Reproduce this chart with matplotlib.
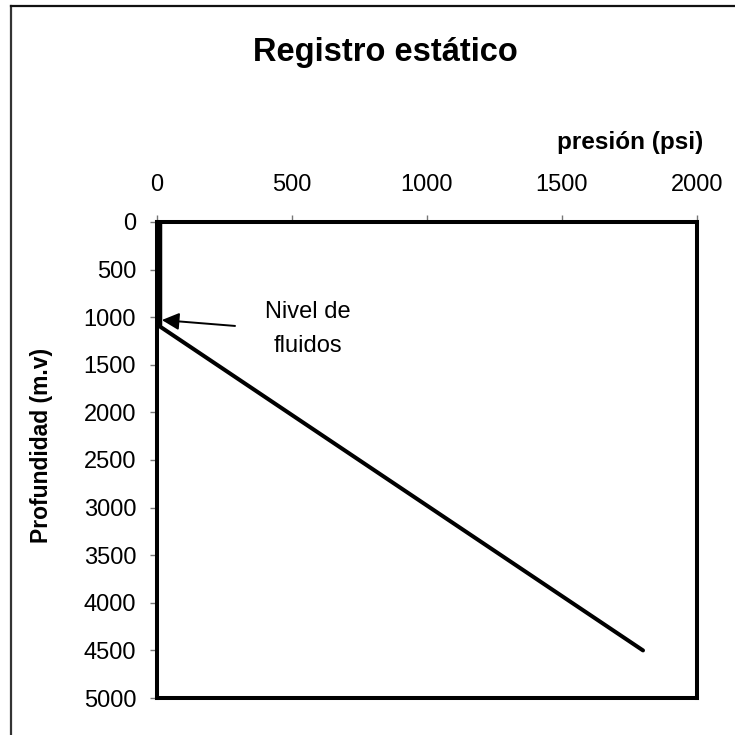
import matplotlib.pyplot as plt
from matplotlib.lines import Line2D

plt.rcParams['font.family'] = ['Liberation Sans', 'DejaVu Sans']

# datos del registro
presion = [12, 12, 1800]
profundidad = [0, 1100, 4500]

xticks = [0, 500, 1000, 1500, 2000]
yticks = [0, 500, 1000, 1500, 2000, 2500, 3000, 3500, 4000, 4500, 5000]

fig = plt.figure(figsize=(7.35, 7.35), dpi=100)
ax = fig.add_axes([0.2136, 0.0503, 0.7347, 0.6477])

ax.plot(presion, profundidad, color='black', lw=2.9, solid_capstyle='round')

ax.set_xlim(0, 2000)
ax.set_ylim(5000, 0)
ax.set_xticks(xticks)
ax.set_yticks(yticks)
ax.xaxis.tick_top()
ax.tick_params(axis='both', labelsize=17, color='#777777', length=5, width=1)
ax.tick_params(axis='x', pad=14)
ax.tick_params(axis='y', pad=10)

for s in ax.spines.values():
    s.set_linewidth(2.9)
    s.set_color('black')

ax.set_ylabel('Profundidad (m.v)', fontsize=16.5, fontweight='bold')
ax.yaxis.set_label_coords(-0.193, 0.53)

fig.text(0.524, 0.928, 'Registro estático', fontsize=23.5, fontweight='bold',
         ha='center', va='center')
fig.text(0.857, 0.806, 'presión (psi)', fontsize=17.5, fontweight='bold',
         ha='center', va='center')

# flecha y texto del nivel de fluidos
ax.annotate('', xy=(18, 1030), xytext=(289, 1092),
            arrowprops=dict(arrowstyle='-|>', color='black', lw=1.4,
                            mutation_scale=26, shrinkA=0, shrinkB=0))
ax.text(559, 1124, 'Nivel de\nfluidos', fontsize=17, ha='center', va='center',
        linespacing=1.65)

# marco de la figura (solo izquierda y arriba)
fig.add_artist(Line2D([0.015, 0.015], [0, 0.992], transform=fig.transFigure,
                      color='#333333', lw=1.6))
fig.add_artist(Line2D([0.015, 1], [0.992, 0.992], transform=fig.transFigure,
                      color='#111111', lw=1.6))

fig.savefig('out.png', dpi=100)
